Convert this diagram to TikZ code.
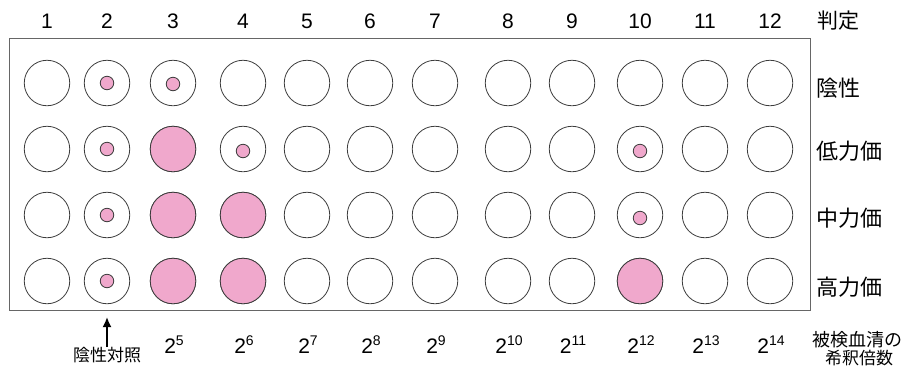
\documentclass[tikz,border=0pt]{standalone}
\usepackage{fontspec}
\usetikzlibrary{arrows.meta}
\setmainfont{Liberation Sans}
\newfontfamily\jp{Noto Sans CJK JP}
\definecolor{wellpink}{RGB}{240,168,204}
\definecolor{lineg}{RGB}{60,60,60}
\newcommand{\expo}[1]{2\raisebox{7.5pt}{\fontsize{14}{14}\selectfont #1}}
\begin{document}
\begin{tikzpicture}[x=1pt,y=-1pt,
  well/.style={circle,draw=lineg,line width=0.8pt,minimum size=45.5pt,inner sep=0pt,fill=white},
  pinkwell/.style={well,fill=wellpink},
  dot/.style={circle,draw=lineg,line width=0.8pt,minimum size=13.5pt,inner sep=0pt,fill=wellpink},
  numlab/.style={font=\fontsize{21}{21}\selectfont,inner sep=0pt},
  jplab/.style={font=\jp\fontsize{22}{22}\selectfont,inner sep=0pt,anchor=west},
  explab/.style={font=\fontsize{21}{21}\selectfont,inner sep=0pt,anchor=base},
  smalljp/.style={font=\jp\fontsize{17}{17}\selectfont,inner sep=0pt}]
\useasboundingbox (0,0) rectangle (905,376);
\draw[draw=gray!80!black,line width=0.9pt] (9,38) rectangle (810,310);
% column x positions
\def\xs{47,107,173,243,307,370,435,508,572,640,705,770}
\foreach \x [count=\i] in \xs {
  \node[numlab] (n\i) at (\x,21) {\i};
}
\node[font=\jp\fontsize{21}{21}\selectfont,inner sep=0pt] (judge) at (838,21) {判定};
% rows y
\foreach \r/\y in {1/83,2/149,3/215,4/281}{
  \foreach \x [count=\i] in \xs {
    \node[well] (w\r-\i) at (\x,\y) {};
  }
}
% pink full wells
\node[pinkwell] at (w2-3) {};
\node[pinkwell] at (w3-3) {};
\node[pinkwell] at (w3-4) {};
\node[pinkwell] at (w4-3) {};
\node[pinkwell] at (w4-4) {};
\node[pinkwell] at (w4-10) {};
% dots
\node[dot] (d1-2) at (w1-2) {};
\node[dot] (d1-3) at ([yshift=-1]w1-3) {};
\node[dot] (d2-2) at (w2-2) {};
\node[dot] (d2-4) at ([yshift=-2]w2-4) {};
\node[dot] (d2-10) at ([yshift=-2]w2-10) {};
\node[dot] (d3-2) at (w3-2) {};
\node[dot] (d3-10) at ([yshift=-3]w3-10) {};
\node[dot] (d4-2) at (w4-2) {};
% right labels
\node[jplab] (l1) at (816,88) {陰性};
\node[jplab] (l2) at (816,151) {低力価};
\node[jplab] (l3) at (816,218) {中力価};
\node[jplab] (l4) at (816,287) {高力価};
% exponents
\foreach \e [count=\k from 3] in {5,6,7,8,9,10,11,12,13,14}{
  \pgfmathsetmacro{\xx}{{47,107,173,243,307,370,435,508,572,640,705,770}[\k-1]}
  \node[explab] (e\e) at (\xx+1,353) {\expo{\e}};
}
\coordinate (arrbot) at (107,347);
\coordinate (arrtip) at (107,317);
\draw[-{Latex[length=10pt,width=9pt]},line width=1.8pt] (arrbot) -- (arrtip);
\node[smalljp] (neg) at (107,355) {陰性対照};
\node[font=\jp\fontsize{18}{18}\selectfont,inner sep=0pt] (sub1) at (857,340) {被検血清の};
\node[font=\jp\fontsize{17}{17}\selectfont,inner sep=0pt] (sub2) at (859,358) {希釈倍数};
\end{tikzpicture}
\end{document}
